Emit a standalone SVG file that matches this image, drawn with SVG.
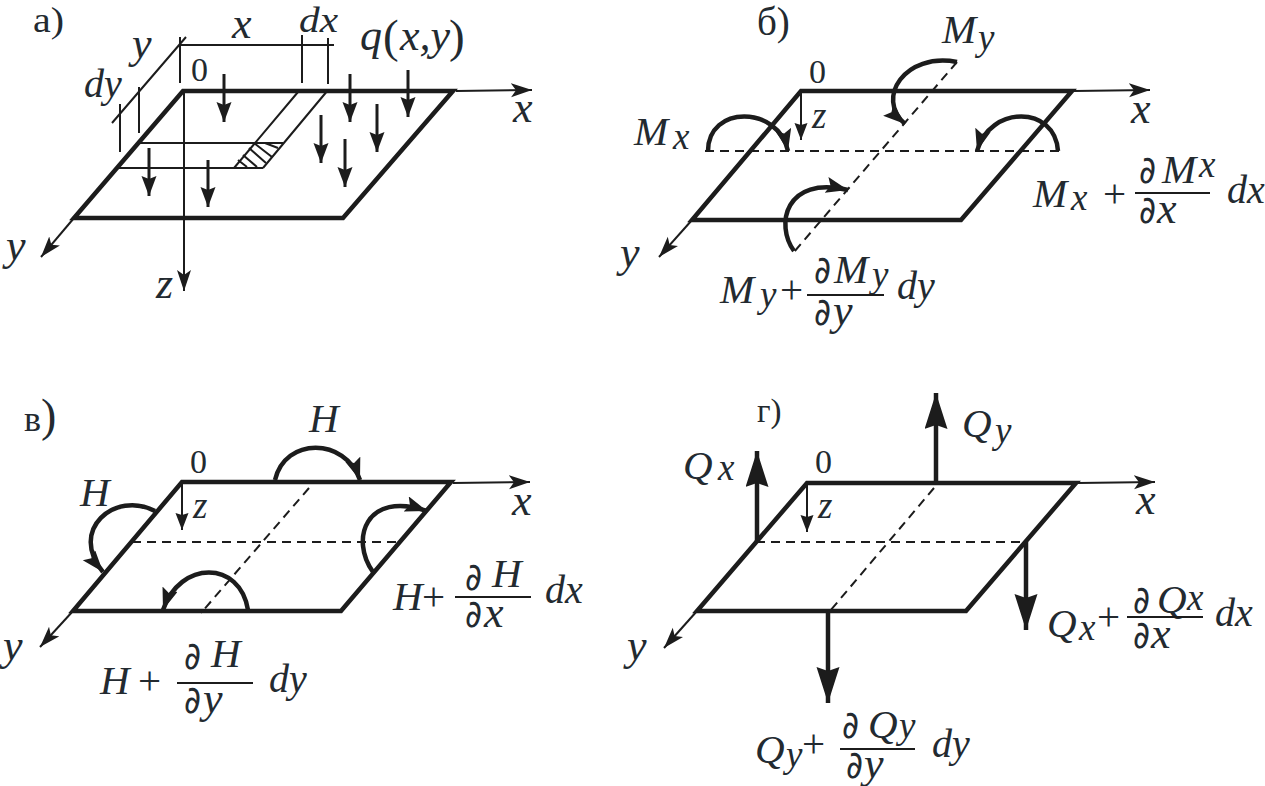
<svg xmlns="http://www.w3.org/2000/svg" width="1265" height="786" viewBox="0 0 1265 786">
<style>
.plate{fill:none;stroke:#1c1c1c;stroke-width:4.5;stroke-linejoin:miter}
.thin{fill:none;stroke:#1c1c1c;stroke-width:2}
.mid{fill:none;stroke:#1c1c1c;stroke-width:2.2}
.dash{fill:none;stroke:#1c1c1c;stroke-width:2;stroke-dasharray:9 6}
.ax{fill:none;stroke:#1c1c1c;stroke-width:2;marker-end:url(#mAx)}
.sm{fill:none;stroke:#1c1c1c;stroke-width:2;marker-end:url(#mSm)}
.load{fill:none;stroke:#1c1c1c;stroke-width:3;marker-end:url(#mLoad)}
.heavy{fill:none;stroke:#1c1c1c;stroke-width:4.5;marker-end:url(#mHeavy)}
.arc{fill:none;stroke:#1c1c1c;stroke-width:4.5;marker-end:url(#mArc)}
text{font-family:"Liberation Serif","Times New Roman",serif;fill:#232a30}
.c{font-style:italic;font-size:41px}
.l{font-style:italic;font-size:44px}
.dd{font-style:italic;font-size:40px}
.s{font-style:italic;font-size:37px}
.u{font-size:39px}
.n{font-size:34px}
.pl{font-size:41px}
.par{font-size:47px}
.d{font-family:"DejaVu Sans","Liberation Sans",sans-serif;font-size:38px}
</style>
<defs>
<marker id="mAx" markerUnits="userSpaceOnUse" markerWidth="24" markerHeight="16" refX="21" refY="7" orient="auto"><path d="M0,0L21,7L0,14L5,7z" fill="#1c1c1c"/></marker>
<marker id="mSm" markerUnits="userSpaceOnUse" markerWidth="20" markerHeight="16" refX="17" refY="6.5" orient="auto"><path d="M0,0L17,6.5L0,13L2,6.5z" fill="#1c1c1c"/></marker>
<marker id="mLoad" markerUnits="userSpaceOnUse" markerWidth="24" markerHeight="18" refX="20" refY="7.5" orient="auto"><path d="M0,0L20,7.5L0,15L3,7.5z" fill="#1c1c1c"/></marker>
<marker id="mHeavy" markerUnits="userSpaceOnUse" markerWidth="40" markerHeight="26" refX="36" refY="11.5" orient="auto"><path d="M0,0L36,11.5L0,23L4,11.5z" fill="#1c1c1c"/></marker>
<marker id="mArc" markerUnits="userSpaceOnUse" markerWidth="26" markerHeight="20" refX="22" refY="8" orient="auto"><path d="M0,0L22,8L0,16L4,8z" fill="#1c1c1c"/></marker>
</defs>
<rect width="1265" height="786" fill="#fff"/>

<g id="connectors">
<g id="conn-a">
<path class="thin" d="M180 37V83M180 45H334M302 35V83M328 38V84M186 37L112 123M139 87V133M120 104V152"/>
<path class="thin" d="M298 92L234 168M328 90L263 168M140 143H283M119 168H263"/>
<path class="thin" d="M238 160L247 167M243 155L257 167M249 148L266 163M254 143L272 157M265 143L278 148"/>
<path class="ax" d="M456 91L532 90"/><path class="ax" d="M74 218L41 257"/><path class="ax" d="M184 91V291"/>
<path class="load" d="M224 74V122"/><path class="load" d="M350 74V122"/><path class="load" d="M408 70V117"/><path class="load" d="M377 104V152"/><path class="load" d="M321 115V163"/><path class="load" d="M345 139V187"/><path class="load" d="M149 148V196"/><path class="load" d="M208 160V207"/>
</g>
<g id="conn-b">
<path class="ax" d="M1074 91L1150 90"/><path class="ax" d="M692 220L659 257"/><path class="sm" d="M801 91V140"/>
<path class="dash" d="M705 151H1061M957 62L794 252"/>
<path class="arc" d="M957 62C905 52 875 98 905 124"/>
<path class="arc" d="M708 151C708 105 778 105 788 151"/>
<path class="arc" d="M1058 151C1055 105 990 105 977 151"/>
<path class="arc" d="M794 251C775 225 785 175 848 190"/>
</g>
<g id="conn-c">
<path class="ax" d="M453 483L530 482"/><path class="ax" d="M73 611L40 647"/><path class="sm" d="M182 482V530"/>
<path class="dash" d="M132 542H398M309 488L201 613"/>
<path class="arc" d="M275 480C285 437 345 437 360 480"/>
<path class="arc" d="M155 511C115 490 68 530 103 572"/>
<path class="arc" d="M373 572C350 540 365 490 427 511"/>
<path class="arc" d="M248 610C240 560 180 560 163 610"/>
</g>
<g id="conn-d">
<path class="ax" d="M1078 483L1155 482"/><path class="ax" d="M697 611L664 648"/><path class="sm" d="M807 483V532"/>
<path class="dash" d="M756 542H1026M934 488L830 611"/>
<path class="heavy" d="M757 542V451"/><path class="heavy" d="M936 483V393"/><path class="heavy" d="M1026 542V630"/><path class="heavy" d="M828 611V703"/>
</g>
</g>

<g id="plate-a"><path class="plate" d="M183 91H453L343 218H74Z"/></g>
<g id="plate-b"><path class="plate" d="M801 91H1072L961 220H692Z"/></g>
<g id="plate-c"><path class="plate" d="M182 482H451L341 611H73Z"/></g>
<g id="plate-d"><path class="plate" d="M807 483H1076L966 611H697Z"/></g>

<g id="labels-a">
<text class="u" x="33" y="32" style="font-size:36px" textLength="31" lengthAdjust="spacingAndGlyphs">а)</text>
<text class="l" x="232" y="38">x</text><text class="dd" x="299" y="32" style="font-size:36px" textLength="39" lengthAdjust="spacingAndGlyphs">dx</text>
<text class="l" x="132" y="58">y</text><text class="dd" x="84" y="97">dy</text>
<text class="l" x="360" y="50">q</text><text class="par" x="383" y="52">(</text><text class="l" x="400" y="50">x,y</text><text class="par" x="449" y="52">)</text>
<text class="n" x="191" y="81">0</text>
<text class="l" x="513" y="122">x</text><text class="l" x="6" y="260">y</text><text class="l" x="156" y="298">z</text>
</g>
<g id="labels-b">
<text class="u" x="757" y="35">б)</text>
<text class="c" x="942" y="43">M</text><text class="s" x="978" y="50">y</text>
<text class="n" x="809" y="83">0</text>
<text class="l" x="1131" y="123">x</text><text class="s" x="812" y="128">z</text><text class="l" x="620" y="267">y</text>
<text class="c" x="634" y="145">M</text><text class="s" x="673" y="149">x</text>
<text class="c" x="1033" y="207">M</text><text class="s" x="1071" y="210">x</text><text class="pl" x="1103" y="207">+</text>
<text class="d" x="1139" y="183" textLength="17" lengthAdjust="spacingAndGlyphs">∂</text><text class="c" x="1162" y="183">M</text><text class="s" x="1199" y="177">x</text>
<path class="mid" d="M1135 193H1210"/>
<text class="d" x="1139" y="223" textLength="17" lengthAdjust="spacingAndGlyphs">∂</text><text class="l" x="1157" y="223">x</text><text class="dd" x="1227" y="203">dx</text>
<text class="c" x="720" y="303">M</text><text class="s" x="760" y="307">y</text><text class="pl" x="780" y="303">+</text>
<text class="d" x="814" y="283" textLength="17" lengthAdjust="spacingAndGlyphs">∂</text><text class="c" x="834" y="283">M</text><text class="s" x="872" y="287">y</text>
<path class="mid" d="M807 295H884"/>
<text class="d" x="814" y="325" textLength="17" lengthAdjust="spacingAndGlyphs">∂</text><text class="l" x="833" y="325">y</text><text class="dd" x="897" y="299">dy</text>
</g>
<g id="labels-c">
<text class="u" x="24" y="431" style="font-size:36px">в<tspan style="font-size:46px">)</tspan></text>
<text class="n" x="190" y="473">0</text>
<text class="c" x="309" y="432">H</text><text class="c" x="80" y="506">H</text>
<text class="s" x="193" y="518">z</text><text class="l" x="512" y="515">x</text><text class="l" x="3" y="660">y</text>
<text class="c" x="393" y="610">H</text><text class="pl" x="422" y="610">+</text>
<text class="d" x="465" y="590" textLength="17" lengthAdjust="spacingAndGlyphs">∂</text><text class="c" x="492" y="587">H</text>
<path class="mid" d="M455 597H531"/>
<text class="d" x="465" y="627" textLength="17" lengthAdjust="spacingAndGlyphs">∂</text><text class="l" x="484" y="627">x</text><text class="dd" x="545" y="603">dx</text>
<text class="c" x="100" y="694">H</text><text class="pl" x="138" y="694">+</text>
<text class="d" x="184" y="669" textLength="17" lengthAdjust="spacingAndGlyphs">∂</text><text class="c" x="211" y="667">H</text>
<path class="mid" d="M177 683H253"/>
<text class="d" x="184" y="713" textLength="17" lengthAdjust="spacingAndGlyphs">∂</text><text class="l" x="203" y="713">y</text><text class="dd" x="269" y="692">dy</text>
</g>
<g id="labels-d">
<text class="u" x="757" y="422" style="font-size:33px">г)</text>
<text class="c" x="962" y="437">Q</text><text class="s" x="995" y="443">y</text>
<text class="c" x="683" y="479">Q</text><text class="s" x="718" y="480">x</text>
<text class="n" x="815" y="473">0</text>
<text class="l" x="1136" y="514">x</text><text class="s" x="818" y="518">z</text><text class="l" x="627" y="660">y</text>
<text class="c" x="1047" y="637">Q</text><text class="s" x="1079" y="640">x</text><text class="pl" x="1097" y="630">+</text>
<text class="d" x="1133" y="613" textLength="17" lengthAdjust="spacingAndGlyphs">∂</text><text class="c" x="1157" y="613">Q</text><text class="s" x="1187" y="610">x</text>
<path class="mid" d="M1127 617H1203"/>
<text class="d" x="1133" y="648" textLength="17" lengthAdjust="spacingAndGlyphs">∂</text><text class="l" x="1151" y="648">x</text><text class="dd" x="1215" y="626">dx</text>
<text class="c" x="755" y="763">Q</text><text class="s" x="786" y="767">y</text><text class="pl" x="802" y="757">+</text>
<text class="d" x="842" y="738" textLength="17" lengthAdjust="spacingAndGlyphs">∂</text><text class="c" x="868" y="738">Q</text><text class="s" x="899" y="738">y</text>
<path class="mid" d="M840 749H915"/>
<text class="d" x="846" y="778" textLength="17" lengthAdjust="spacingAndGlyphs">∂</text><text class="l" x="864" y="778">y</text><text class="dd" x="932" y="757">dy</text>
</g>
</svg>
